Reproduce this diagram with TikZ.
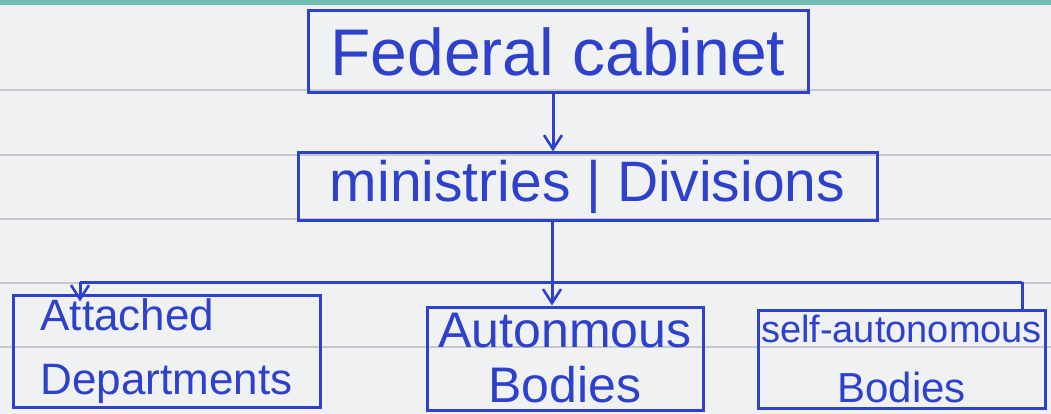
\documentclass[tikz,border=0pt]{standalone}
\usepackage{fontspec}
\setmainfont{Liberation Sans}
\usetikzlibrary{arrows.meta}
\definecolor{ink}{RGB}{45,65,205}
\definecolor{paper}{RGB}{240,241,243}
\definecolor{ruling}{RGB}{198,200,203}
\definecolor{band}{RGB}{110,190,175}
\begin{document}
\begin{tikzpicture}[x=1pt,y=-1pt,
  box/.style={draw=ink, line width=3pt, text=ink, inner sep=0pt, align=center},
  conn/.style={draw=ink, line width=3pt},
  arr/.style={conn, -{Straight Barb[length=14pt,width=18pt,line width=2.6pt]}}]
% ruled notebook page
\fill[paper] (0,0) rectangle (1051,414);
\useasboundingbox (0,0) rectangle (1051,414);
\fill[band] (0,0) rectangle (1051,5);
\foreach \y in {90,155,219,283,347}
  \draw[ruling, line width=1.5pt] (0,\y) -- (1051,\y);

% boxes
\node[box, minimum width=500, minimum height=82,
      font=\fontsize{66}{70}\selectfont] (fed) at (558,52) {Federal cabinet};
\node[box, minimum width=579, minimum height=67,
      font=\fontsize{57}{62}\selectfont] (min) at (587.5,186.5) {ministries | Divisions};
\node[box, minimum width=307, minimum height=112, align=left,
      font=\fontsize{44}{64}\selectfont] (att) at (166.5,351) {Attached\\Departments};
\node[box, minimum width=276, minimum height=103,
      font=\fontsize{50}{55}\selectfont] (auto) at (565,358.5) {Autonmous\\Bodies};
\node[box, minimum width=287, minimum height=98,
      font=\fontsize{38}{60}\selectfont] (self) at (901.5,359)
      {self-autonomous\\\fontsize{42}{60}\selectfont Bodies};

% connectors
\path (fed.south) ++(-5,0) coordinate (a1);
\draw[arr] (a1) -- (a1 |- min.north);
\path (min.south) ++(-35.5,0) coordinate (b0);
\draw[arr] (b0) -- (b0 |- auto.north);
\coordinate (busL) at (80,282);
\coordinate (busR) at (1022,282);
\draw[conn] (busL) -- (busR);
\draw[arr, shorten >=-8pt] (busL) -- (busL |- att.north);
\draw[conn] (busR) -- (busR |- self.north);
\end{tikzpicture}
\end{document}
